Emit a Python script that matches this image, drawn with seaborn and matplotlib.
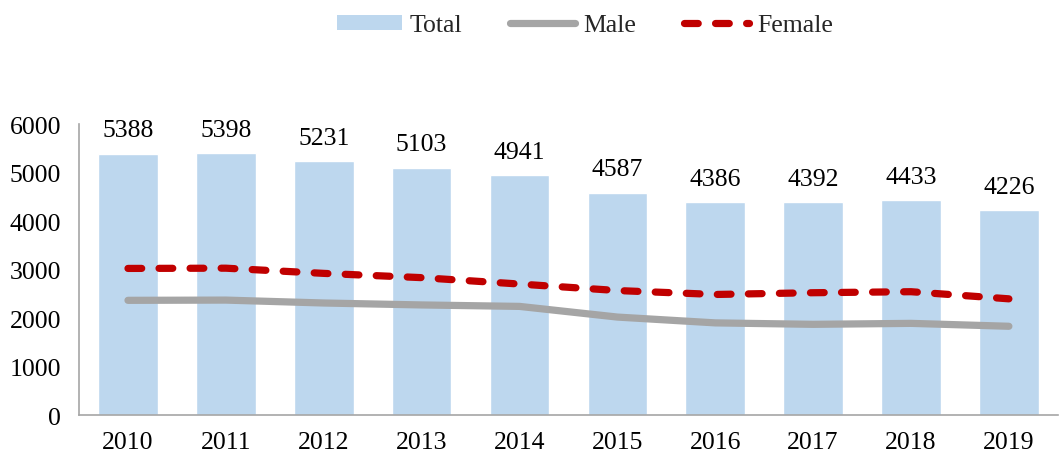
import numpy as np
import pandas as pd
import matplotlib
matplotlib.use("Agg")
import matplotlib.pyplot as plt
import seaborn as sns
from matplotlib.patches import Patch
from matplotlib.lines import Line2D

years = ["2010", "2011", "2012", "2013", "2014", "2015", "2016", "2017", "2018", "2019"]
total = [5388, 5398, 5231, 5103, 4941, 4587, 4386, 4392, 4433, 4226]
male = [2365, 2370, 2310, 2270, 2240, 2020, 1900, 1870, 1890, 1830]
female = [3023, 3028, 2921, 2833, 2701, 2567, 2486, 2522, 2543, 2396]

sns.set_theme(style="white")
plt.rcParams['font.family'] = ['Liberation Serif', 'DejaVu Serif']

FS = 18.5

df = pd.DataFrame({"year": years, "total": total, "male": male, "female": female,
                   "pos": np.arange(len(years))})

fig = plt.figure(figsize=(10.61, 4.56), dpi=100)
ax = fig.add_axes([0.0745, 0.0877, 0.9225, 0.638])

sns.barplot(data=df, x="year", y="total", color="#BDD7EE", saturation=1,
            width=0.61, ax=ax)
sns.lineplot(data=df, x="pos", y="male", color="#A5A5A5", lw=5.2,
             solid_capstyle="round", ax=ax)
sns.lineplot(data=df, x="pos", y="female", color="#C00000", lw=5.2,
             dashes=False, ax=ax)
fl = ax.lines[-1]
fl.set_dashes((1.9, 2.4))
fl.set_dash_capstyle("round")

ax.bar_label(ax.containers[0], labels=[str(v) for v in total], padding=9,
             fontsize=FS, color="black")

ax.set_ylim(0, 6000)
ax.set_xlim(-0.5, 9.5)
ax.set_yticks(range(0, 6001, 1000))
ax.set_xlabel("")
ax.set_ylabel("")
ax.tick_params(axis="both", labelsize=FS, colors="black", length=0)
ax.tick_params(axis="y", pad=13)
ax.tick_params(axis="x", pad=11.5)
for s in ["top", "right"]:
    ax.spines[s].set_visible(False)
for s in ["left", "bottom"]:
    ax.spines[s].set_color("#A6A6A6")
    ax.spines[s].set_linewidth(1.2)
ax.grid(False)

handles = [
    Patch(facecolor="#BDD7EE", edgecolor="none"),
    Line2D([0], [0], color="#A5A5A5", lw=5.2, solid_capstyle="round"),
    Line2D([0], [0], color="#C00000", lw=5.2, dashes=(1.9, 2.4), dash_capstyle="round"),
]
leg = fig.legend(handles, ["Total", "Male", "Female"], loc="center",
                 bbox_to_anchor=(0.551, 0.942), ncol=3, frameon=False,
                 fontsize=FS, handlelength=2.55, handleheight=0.5,
                 handletextpad=0.3, columnspacing=1.85)

fig.savefig("out.png", dpi=100)
